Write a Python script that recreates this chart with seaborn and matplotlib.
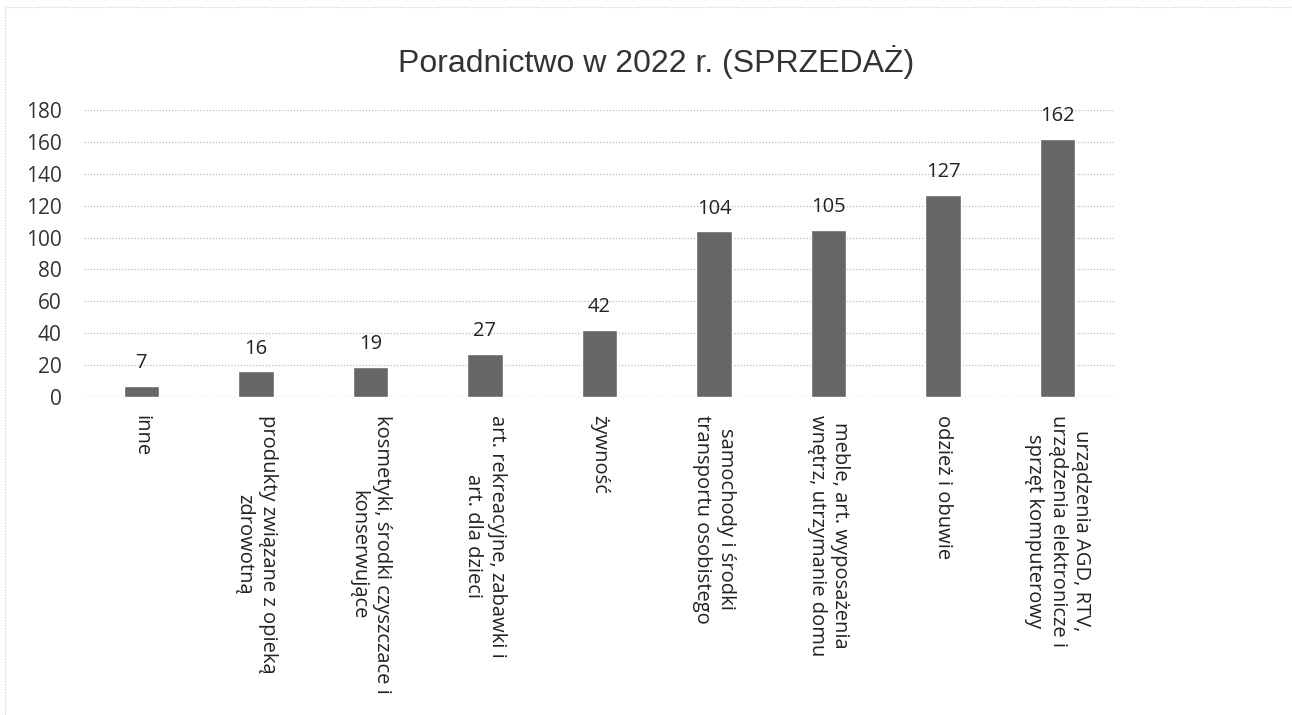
import pandas as pd
import seaborn as sns
import matplotlib.pyplot as plt

# Data
categories = [
    "inne",
    "produkty związane z opieką\nzdrowotną",
    "kosmetyki, środki czyszczace i\nkonserwujące",
    "art. rekreacyjne, zabawki i\nart. dla dzieci",
    "żywność",
    "samochody i środki\ntransportu osobistego",
    "meble, art. wyposażenia\nwnętrz, utrzymanie domu",
    "odzież i obuwie",
    "urządzenia AGD, RTV,\nurządzenia elektronicze i\nsprzęt komputerowy",
]
values = [7, 16, 19, 27, 42, 104, 105, 127, 162]
yticks = list(range(0, 181, 20))

df = pd.DataFrame({"kategoria": categories, "liczba": values})

sns.set_theme(style="white")
plt.rcParams['font.family'] = ['Open Sans', 'DejaVu Sans']

fig = plt.figure(figsize=(12.92, 7.15), dpi=100)
ax = fig.add_axes([0.065, 0.445, 0.798, 0.401])

sns.barplot(data=df, x="kategoria", y="liczba", color="#666666",
            width=0.31, saturation=1, ax=ax, zorder=3)

ax.bar_label(ax.containers[0], fontsize=14.5, color="#222222", padding=9)

ax.set_ylim(0, 180)
ax.set_yticks(yticks)
ax.tick_params(axis='y', labelsize=15, colors="#333333", length=0, pad=16)
ax.tick_params(axis='x', labelsize=14.5, colors="#222222", length=0, pad=13)
ax.set_xticks(range(len(categories)))
ax.set_xticklabels(categories, rotation=270, ha='center', va='top',
                   multialignment='center', linespacing=1.25)
ax.set_xlim(-0.5, len(categories) - 0.5)

ax.grid(axis='y', color="#bbbbbb", linestyle=(0, (1, 1.5)), linewidth=0.9, zorder=0)
for s in ax.spines.values():
    s.set_visible(False)
ax.axhline(0, color="#bbbbbb", linewidth=0.9, linestyle=(0, (1, 1.5)), zorder=1)

ax.set_xlabel("")
ax.set_ylabel("")

fig.text(0.508, 0.913, "Poradnictwo w 2022 r. (SPRZEDAŻ)", ha='center', va='center',
         fontsize=23, color="#333333", family=['Liberation Sans', 'DejaVu Sans'])

# faint chart-area border
fig.add_artist(plt.Line2D([0.004, 0.004], [0.0, 0.99], color="#cccccc",
                          linewidth=0.8, linestyle=(0, (1, 1.5))))
fig.add_artist(plt.Line2D([0.004, 1.0], [0.99, 0.99], color="#cccccc",
                          linewidth=0.8, linestyle=(0, (1, 1.5))))

fig.savefig("out.png", dpi=100)
